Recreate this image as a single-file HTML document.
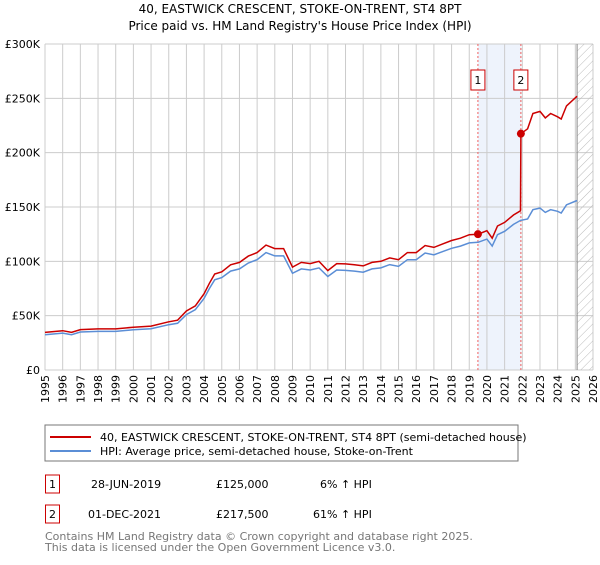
<!DOCTYPE html>
<html><head><meta charset="utf-8"><style>
body{margin:0;background:#fff;font-family:"Liberation Sans","DejaVu Sans",sans-serif;}
svg text{font-family:"DejaVu Sans","Liberation Sans",sans-serif;}
</style></head><body>
<svg id="c" width="600" height="560" viewBox="0 0 600 560" xmlns="http://www.w3.org/2000/svg">
<defs><pattern id="hatch" width="6" height="6" patternUnits="userSpaceOnUse" patternTransform="rotate(45)"><line x1="0" y1="0" x2="0" y2="6" stroke="#bbb" stroke-width="1"/></pattern></defs>
<text x="300" y="13" text-anchor="middle" font-size="12">40, EASTWICK CRESCENT, STOKE-ON-TRENT, ST4 8PT</text>
<text x="300" y="30" text-anchor="middle" font-size="12">Price paid vs. HM Land Registry's House Price Index (HPI)</text>
<g id="grid"></g><g id="series"></g><g id="axes"></g>
<rect x="45" y="425" width="473" height="36" fill="#fff" stroke="#777"/>
<line x1="50" y1="437" x2="91" y2="437" stroke="#cc0000" stroke-width="2"/>
<text x="100" y="441" font-size="11">40, EASTWICK CRESCENT, STOKE-ON-TRENT, ST4 8PT (semi-detached house)</text>
<line x1="50" y1="451" x2="91" y2="451" stroke="#5b8ed6" stroke-width="2"/>
<text x="100" y="455" font-size="11">HPI: Average price, semi-detached house, Stoke-on-Trent</text>
<g font-size="11">
<rect x="45.5" y="475" width="14" height="18" fill="none" stroke="#cc0000"/><text x="52.5" y="488" text-anchor="middle">1</text>
<text x="91" y="488">28-JUN-2019</text><text x="216" y="488">£125,000</text><text x="320" y="488">6% ↑ HPI</text>
<rect x="45.5" y="505" width="14" height="18" fill="none" stroke="#cc0000"/><text x="52.5" y="518" text-anchor="middle">2</text>
<text x="88" y="518">01-DEC-2021</text><text x="216" y="518">£217,500</text><text x="313" y="518">61% ↑ HPI</text>
</g>
<text x="45" y="540" font-size="11" fill="#777">Contains HM Land Registry data © Crown copyright and database right 2025.</text>
<text x="45" y="551" font-size="11" fill="#777">This data is licensed under the Open Government Licence v3.0.</text>
</svg>
<script>
const years=[1995,1996,1996.5,1997,1998,1999,2000,2001,2002,2002.5,2003,2003.5,2004,2004.3,2004.6,2005,2005.5,2006,2006.5,2007,2007.5,2008,2008.5,2009,2009.5,2010,2010.5,2011,2011.5,2012,2012.5,2013,2013.5,2014,2014.5,2015,2015.5,2016,2016.5,2017,2017.5,2018,2018.5,2019,2019.5,2020,2020.3,2020.6,2021,2021.5,2021.9,2022.3,2022.6,2023,2023.3,2023.6,2024,2024.2,2024.5,2025.1];
const hpi=[32.5,34,32.5,35,35.5,35.5,37,38,41.7,43,51,55.5,66,75,83,85,91,93,98.5,101.5,108,105,105,89,93,92,94,86,92,91.7,91,90,93,94,97,95.4,101.5,101.5,107.7,106,109,112,114,117,117.5,120.5,114,124.5,127.6,134,137.7,139,147.5,149,145,147.5,146,144.5,152,156];
const redYears=[1995,1996,1996.5,1997,1998,1999,2000,2001,2002,2002.5,2003,2003.5,2004,2004.3,2004.6,2005,2005.5,2006,2006.5,2007,2007.5,2008,2008.5,2009,2009.5,2010,2010.5,2011,2011.5,2012,2012.5,2013,2013.5,2014,2014.5,2015,2015.5,2016,2016.5,2017,2017.5,2018,2018.5,2019,2019.5,2020,2020.3,2020.6,2021,2021.5,2021.9,2021.92,2022.3,2022.6,2023,2023.3,2023.6,2024,2024.2,2024.5,2025.1];
const price=[34.6,36.2,34.6,37.2,37.8,37.8,39.4,40.4,44.4,45.8,54.3,59,70.2,79.8,88.3,90.4,96.8,99,104.8,108,114.9,111.7,111.7,94.7,99,97.9,100,91.5,97.9,97.6,96.8,95.8,99,100,103.2,101.5,108,108,114.6,112.8,116,119.2,121.3,124.5,125,128.2,121.3,132.5,135.8,142.6,146.5,217.5,222,236,238,232,236,233,231,243,252];
const saleYears=[2019.49,2021.92];
const salePrices=[125,217.5];
const yTicks=[0,50,100,150,200,250,300];
const yTickLabels=["£0","£50K","£100K","£150K","£200K","£250K","£300K"];
const xTicks=[1995,1996,1997,1998,1999,2000,2001,2002,2003,2004,2005,2006,2007,2008,2009,2010,2011,2012,2013,2014,2015,2016,2017,2018,2019,2020,2021,2022,2023,2024,2025,2026];
const NS="http://www.w3.org/2000/svg";
const X0=45,X1=593,Y0=370,Y1=44;
const xs=t=>X0+(t-1995)/(2026-1995)*(X1-X0);
const ys=v=>Y0-v/300*(Y0-Y1);
function mk(tag,attrs,parent){const e=document.createElementNS(NS,tag);for(const k in attrs)e.setAttribute(k,attrs[k]);parent.appendChild(e);return e;}
const grid=document.getElementById('grid'),ser=document.getElementById('series'),ax=document.getElementById('axes');
let e;
e=mk('rect',{x:xs(saleYears[0]),y:Y1,width:xs(saleYears[1])-xs(saleYears[0]),height:Y0-Y1,fill:'#eef3fc'},grid);


yTicks.forEach((v,i)=>{
 e=mk('line',{x1:X0,x2:X1,y1:ys(v),y2:ys(v),stroke:'#ccc'},grid);
 
 
 e=mk('text',{x:X0-5,y:ys(v)+4,'text-anchor':'end','font-size':'11'},ax);
 e.textContent=yTickLabels[i];
 
 
});
xTicks.forEach(t=>{
 e=mk('line',{x1:xs(t),x2:xs(t),y1:Y1,y2:Y0,stroke:'#ccc'},grid);
 
 
 e=mk('text',{x:0,y:0,'text-anchor':'end','font-size':'11',transform:`translate(${xs(t)+4},${Y0+5}) rotate(-90)`},ax);
 e.textContent=t;
 
 
});
e=mk('rect',{x:xs(2025.1),y:Y1,width:X1-xs(2025.1),height:Y0-Y1,fill:'url(#hatch)',stroke:'none'},grid);


e=mk('line',{x1:xs(2025.1),x2:xs(2025.1),y1:Y1,y2:Y0,stroke:'#888'},grid);


saleYears.forEach((t,i)=>{
 e=mk('line',{x1:xs(t),x2:xs(t),y1:Y1,y2:Y0,stroke:'#f06060','stroke-dasharray':'2,2'},grid);
 
 
 e=mk('rect',{x:xs(t)-7,y:70,width:14,height:20,fill:'#fff',stroke:'#cc0000'},ax);
 
 
 e=mk('text',{x:xs(t),y:84,'text-anchor':'middle','font-size':'11'},ax);
 e.textContent=String(i+1);
 
 
});
e=mk('path',{d:years.map((t,i)=>(i?'L':'M')+xs(t).toFixed(1)+','+ys(hpi[i]).toFixed(1)).join(''),fill:'none',stroke:'#5b8ed6','stroke-width':1.5},ser);


e=mk('path',{d:redYears.map((t,i)=>(i?'L':'M')+xs(t).toFixed(1)+','+ys(price[i]).toFixed(1)).join(''),fill:'none',stroke:'#cc0000','stroke-width':1.5},ser);


saleYears.forEach((t,i)=>{
 e=mk('circle',{cx:xs(t),cy:ys(salePrices[i]),r:4,fill:'#cc0000'},ser);
 
 
});
</script>
</body></html>
